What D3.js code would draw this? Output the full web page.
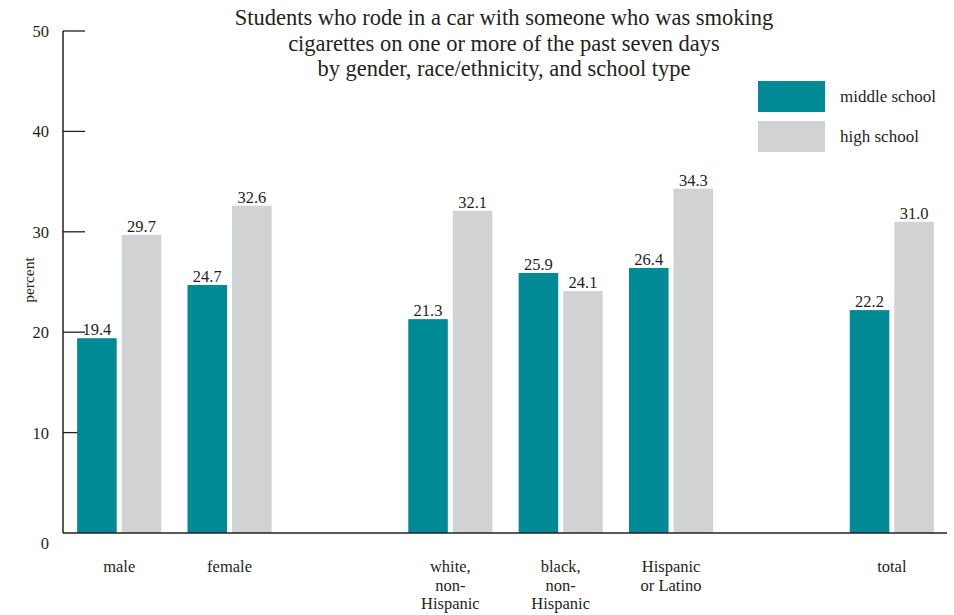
<!DOCTYPE html>
<html>
<head>
<meta charset="utf-8">
<script src="https://cdn.jsdelivr.net/npm/d3@7"></script>
<style>
  html, body { margin: 0; padding: 0; background: #fff; }
  svg { display: block; font-family: "Liberation Serif", "DejaVu Serif", serif; }
</style>
</head>
<body>
<svg id="chart" width="954" height="615"></svg>
<script>
// ---- data ----
const categories = ["male", "female", "white, non-Hispanic", "black, non-Hispanic", "Hispanic or Latino", "total"];
const categoryLabels = [["male"], ["female"], ["white,", "non-", "Hispanic"], ["black,", "non-", "Hispanic"], ["Hispanic", "or Latino"], ["total"]];
const seriesNames = ["middle school", "high school"];
const middleSchool = [19.4, 24.7, 21.3, 25.9, 26.4, 22.2];
const highSchool = [29.7, 32.6, 32.1, 24.1, 34.3, 31.0];
const yTicks = [0, 10, 20, 30, 40, 50];
const titleLines = [
  "Students who rode in a car with someone who was smoking",
  "cigarettes on one or more of the past seven days",
  "by gender, race/ethnicity, and school type"
];
const yAxisLabel = "percent";

// ---- layout ----
const colors = { "middle school": "#008a96", "high school": "#d1d2d4" };
const ink = "#231f20";
const slots = ["male", "female", "_gap1", "white, non-Hispanic", "black, non-Hispanic", "Hispanic or Latino", "_gap2", "total"];

const svg = d3.select("#chart");

const x0 = d3.scaleBand().domain(slots).range([64, 947]).paddingInner(0.238).paddingOuter(0.119);
const x1 = d3.scaleBand().domain(seriesNames).range([0, x0.bandwidth()]).paddingInner(0.112);
const y = d3.scaleLinear().domain([0, 50]).range([533, 31]);

const axisX = 63;

// tick marks (behind bars)
svg.append("g").selectAll("line").data(yTicks.filter(t => t > 0)).join("line")
  .attr("x1", axisX).attr("x2", axisX + 22)
  .attr("y1", d => y(d)).attr("y2", d => y(d))
  .attr("stroke", ink).attr("stroke-width", 1.3);

// tick labels
svg.append("g").selectAll("text").data(yTicks).join("text")
  .attr("x", 49).attr("y", d => y(d) + (d === 0 ? 16 : 6))
  .attr("text-anchor", "end")
  .attr("font-size", 16.5).attr("fill", ink)
  .text(d => d);

// y axis label
svg.append("text")
  .attr("transform", "translate(34,280) rotate(-90)")
  .attr("text-anchor", "middle")
  .attr("font-size", 15.5).attr("fill", ink)
  .text(yAxisLabel);

// bars
const rows = categories.map((c, i) => ({ cat: c, values: [
  { s: seriesNames[0], v: middleSchool[i] },
  { s: seriesNames[1], v: highSchool[i] }
]}));

const groups = svg.append("g").selectAll("g").data(rows).join("g")
  .attr("transform", d => `translate(${x0(d.cat)},0)`);

groups.selectAll("rect").data(d => d.values).join("rect")
  .attr("x", d => x1(d.s))
  .attr("width", x1.bandwidth())
  .attr("y", d => y(d.v))
  .attr("height", d => y(0) - y(d.v))
  .attr("fill", d => colors[d.s]);

groups.selectAll("text.val").data(d => d.values).join("text")
  .attr("class", "val")
  .attr("x", d => x1(d.s) + x1.bandwidth() / 2)
  .attr("y", d => y(d.v) - 3)
  .attr("text-anchor", "middle")
  .attr("font-size", 16.5).attr("fill", ink)
  .text(d => d.v.toFixed(1));

// axis lines
svg.append("line").attr("x1", axisX).attr("x2", axisX).attr("y1", y(50)).attr("y2", y(0))
  .attr("stroke", ink).attr("stroke-width", 1.5);
svg.append("line").attr("x1", axisX).attr("x2", 947).attr("y1", y(0)).attr("y2", y(0))
  .attr("stroke", ink).attr("stroke-width", 1.5);

// category labels
const catG = svg.append("g").selectAll("text").data(categories).join("text")
  .attr("x", d => x0(d) + x0.bandwidth() / 2)
  .attr("y", 572)
  .attr("text-anchor", "middle")
  .attr("font-size", 16.5).attr("fill", ink);
catG.each(function(d, i) {
  d3.select(this).selectAll("tspan").data(categoryLabels[i]).join("tspan")
    .attr("x", x0(d) + x0.bandwidth() / 2)
    .attr("dy", (t, j) => j === 0 ? 0 : 18.5)
    .text(t => t);
});

// title
svg.append("text")
  .attr("text-anchor", "middle")
  .attr("font-size", 22.5).attr("fill", ink)
  .selectAll("tspan").data(titleLines).join("tspan")
  .attr("x", 504).attr("y", (d, i) => 25 + i * 25.5)
  .text(d => d);

// legend
const legend = svg.append("g").selectAll("g").data(seriesNames).join("g")
  .attr("transform", (d, i) => `translate(758,${81 + i * 40})`);
legend.append("rect").attr("width", 67).attr("height", 31).attr("fill", d => colors[d]);
legend.append("text").attr("x", 82).attr("y", 21)
  .attr("font-size", 17).attr("fill", ink).text(d => d);
</script>
</body>
</html>
